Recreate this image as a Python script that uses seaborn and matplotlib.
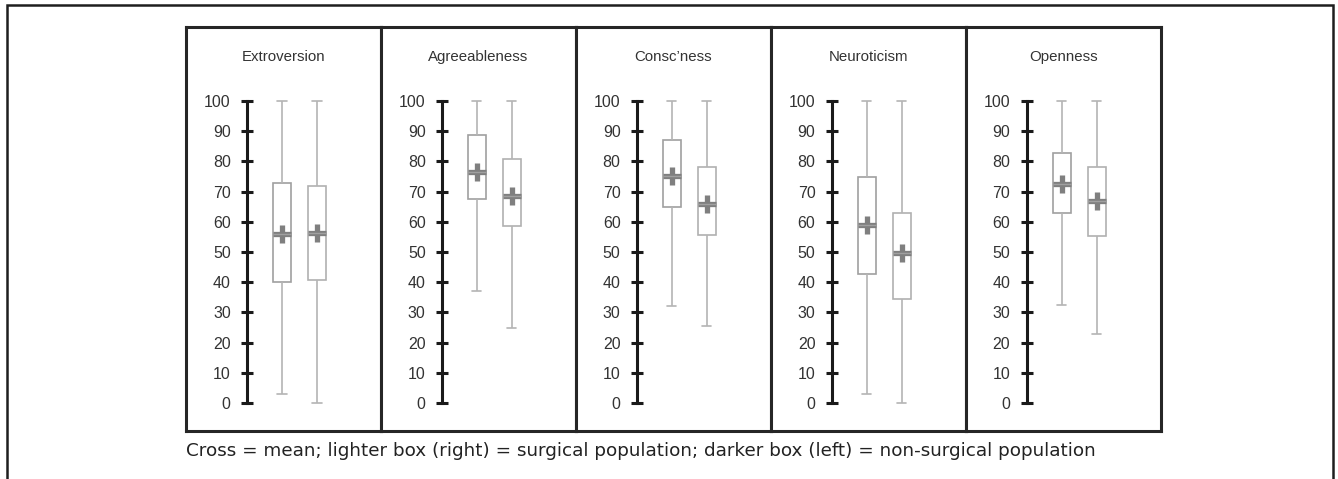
import numpy as np
import pandas as pd
import seaborn as sns
import matplotlib
matplotlib.use("Agg")
import matplotlib.pyplot as plt
from matplotlib.patches import Rectangle

# ---------------- data ----------------
traits = ["Extroversion", "Agreeableness", "Consc\u2019ness", "Neuroticism", "Openness"]
groups = ["non-surgical", "surgical"]   # left (darker) box, right (lighter) box

ns_low    = [3, 37, 32, 3, 32.5]
ns_q1     = [40, 67.5, 65, 42.7, 62.8]
ns_median = [55.9, 76.6, 75.3, 59, 72.5]
ns_q3     = [72.7, 88.7, 87, 75, 82.7]
ns_high   = [100, 100, 100, 100, 100]
ns_mean   = [55.9, 76.6, 75.3, 59, 72.5]

s_low     = [0, 25, 25.5, 0, 22.8]
s_q1      = [40.6, 58.5, 55.6, 34.6, 55.3]
s_median  = [56.2, 68.5, 66, 49.6, 66.9]
s_q3      = [72, 80.7, 78, 62.9, 78]
s_high    = [100, 100, 100, 100, 100]
s_mean    = [56.2, 68.5, 66, 49.6, 66.9]

y_ticks = [0, 10, 20, 30, 40, 50, 60, 70, 80, 90, 100]
footer = ("Cross = mean; lighter box (right) = surgical population; "
          "darker box (left) = non-surgical population")

# five-number summaries as long-form data (percentiles of 5 points reproduce them)
rows = []
for i, t in enumerate(traits):
    for g, vals in ((groups[0], (ns_low, ns_q1, ns_median, ns_q3, ns_high)),
                    (groups[1], (s_low, s_q1, s_median, s_q3, s_high))):
        for v in vals:
            rows.append({"trait": t, "group": g, "value": v[i]})
df = pd.DataFrame(rows)
means = pd.DataFrame({"trait": np.repeat(traits, 2),
                      "group": groups * len(traits),
                      "mean": [m for pair in zip(ns_mean, s_mean) for m in pair]})

# ---------------- style ----------------
sns.set_style("white")
plt.rcParams["font.family"] = ["Liberation Sans", "DejaVu Sans"]

W, H = 1338, 479
fig = plt.figure(figsize=(W / 100, H / 100), dpi=100)

def fx(px):
    return px / W

def fy(py):
    return 1 - py / H

# outer frame
fig.patches.append(Rectangle((fx(7), fy(490)), fx(1333) - fx(7), fy(5) - fy(490),
                             transform=fig.transFigure, fill=False,
                             edgecolor="#1e1e1e", linewidth=1.8))

panel_left0, panel_w = 186, 194.9
panel_top, panel_bot = 27, 431
px_per_unit_y = 3.02
y0_px, y100_px = 403, 101

box_edge = "#a0a0a0"
whisk_col = "#b4b4b4"
cross_col = "#7f7f7f"

for i, t in enumerate(traits):
    pl = panel_left0 + panel_w * i
    # panel frame
    fr = fig.add_axes([fx(pl), fy(panel_bot), panel_w / W, (panel_bot - panel_top) / H])
    fr.set_xticks([]); fr.set_yticks([])
    fr.set_facecolor("white")
    for sp in fr.spines.values():
        sp.set_visible(True)
        sp.set_linewidth(2.2)
        sp.set_color("#262626")
    fr.text((283.5 - 186) / panel_w, (panel_bot - 57) / (panel_bot - panel_top), t,
            ha="center", va="center", fontsize=10.8, color="#333333",
            transform=fr.transAxes)

    # data axes
    ax_left = pl + 61
    ax_right = pl + panel_w - 3
    ytop = y100_px - px_per_unit_y
    ybot = y0_px + px_per_unit_y
    ax = fig.add_axes([fx(ax_left), fy(ybot), (ax_right - ax_left) / W, (ybot - ytop) / H])
    ax.patch.set_alpha(0)

    sub = df[df["trait"] == t]
    sns.boxplot(data=sub, x="group", y="value", order=groups, color="white",
                linecolor=box_edge, linewidth=1.2, width=0.52, whis=(0, 100),
                showfliers=False, ax=ax,
                whiskerprops=dict(color=whisk_col, linewidth=1.2),
                capprops=dict(color=whisk_col, linewidth=1.2),
                medianprops=dict(color=box_edge, linewidth=1.0))
    msub = means[means["trait"] == t]
    sns.pointplot(data=msub, x="group", y="mean", order=groups, errorbar=None,
                  color=cross_col, markers="+", linestyle="none", ax=ax,
                  markersize=13, markeredgewidth=3.8)

    # make the right (surgical) box a little lighter
    for k, patch in enumerate(ax.patches):
        if k == 1:
            patch.set_edgecolor("#b0b0b0")

    unit_x = 35.0
    ax.set_xlim(-1, -1 + (ax_right - ax_left) / unit_x)
    ax.set_ylim(-1, 101)
    ax.set_xticks([])
    ax.set_xlabel(""); ax.set_ylabel("")
    for s in ("top", "right", "bottom"):
        ax.spines[s].set_visible(False)
    ax.spines["left"].set_visible(True)
    ax.spines["left"].set_bounds(0, 100)
    ax.spines["left"].set_linewidth(2.2)
    ax.spines["left"].set_color("#1a1a1a")
    ax.set_yticks(y_ticks)
    ax.set_yticklabels([str(v) for v in y_ticks])
    ax.tick_params(axis="y", direction="inout", length=9, width=2.2, color="#1a1a1a",
                   labelsize=11.5, labelcolor="#333333", pad=7.2, left=True)

fig.text(fx(186), fy(451), footer, ha="left", va="center", fontsize=13.2,
         color="#222222", family=["DejaVu Sans"])

fig.savefig("out.png", dpi=100)
